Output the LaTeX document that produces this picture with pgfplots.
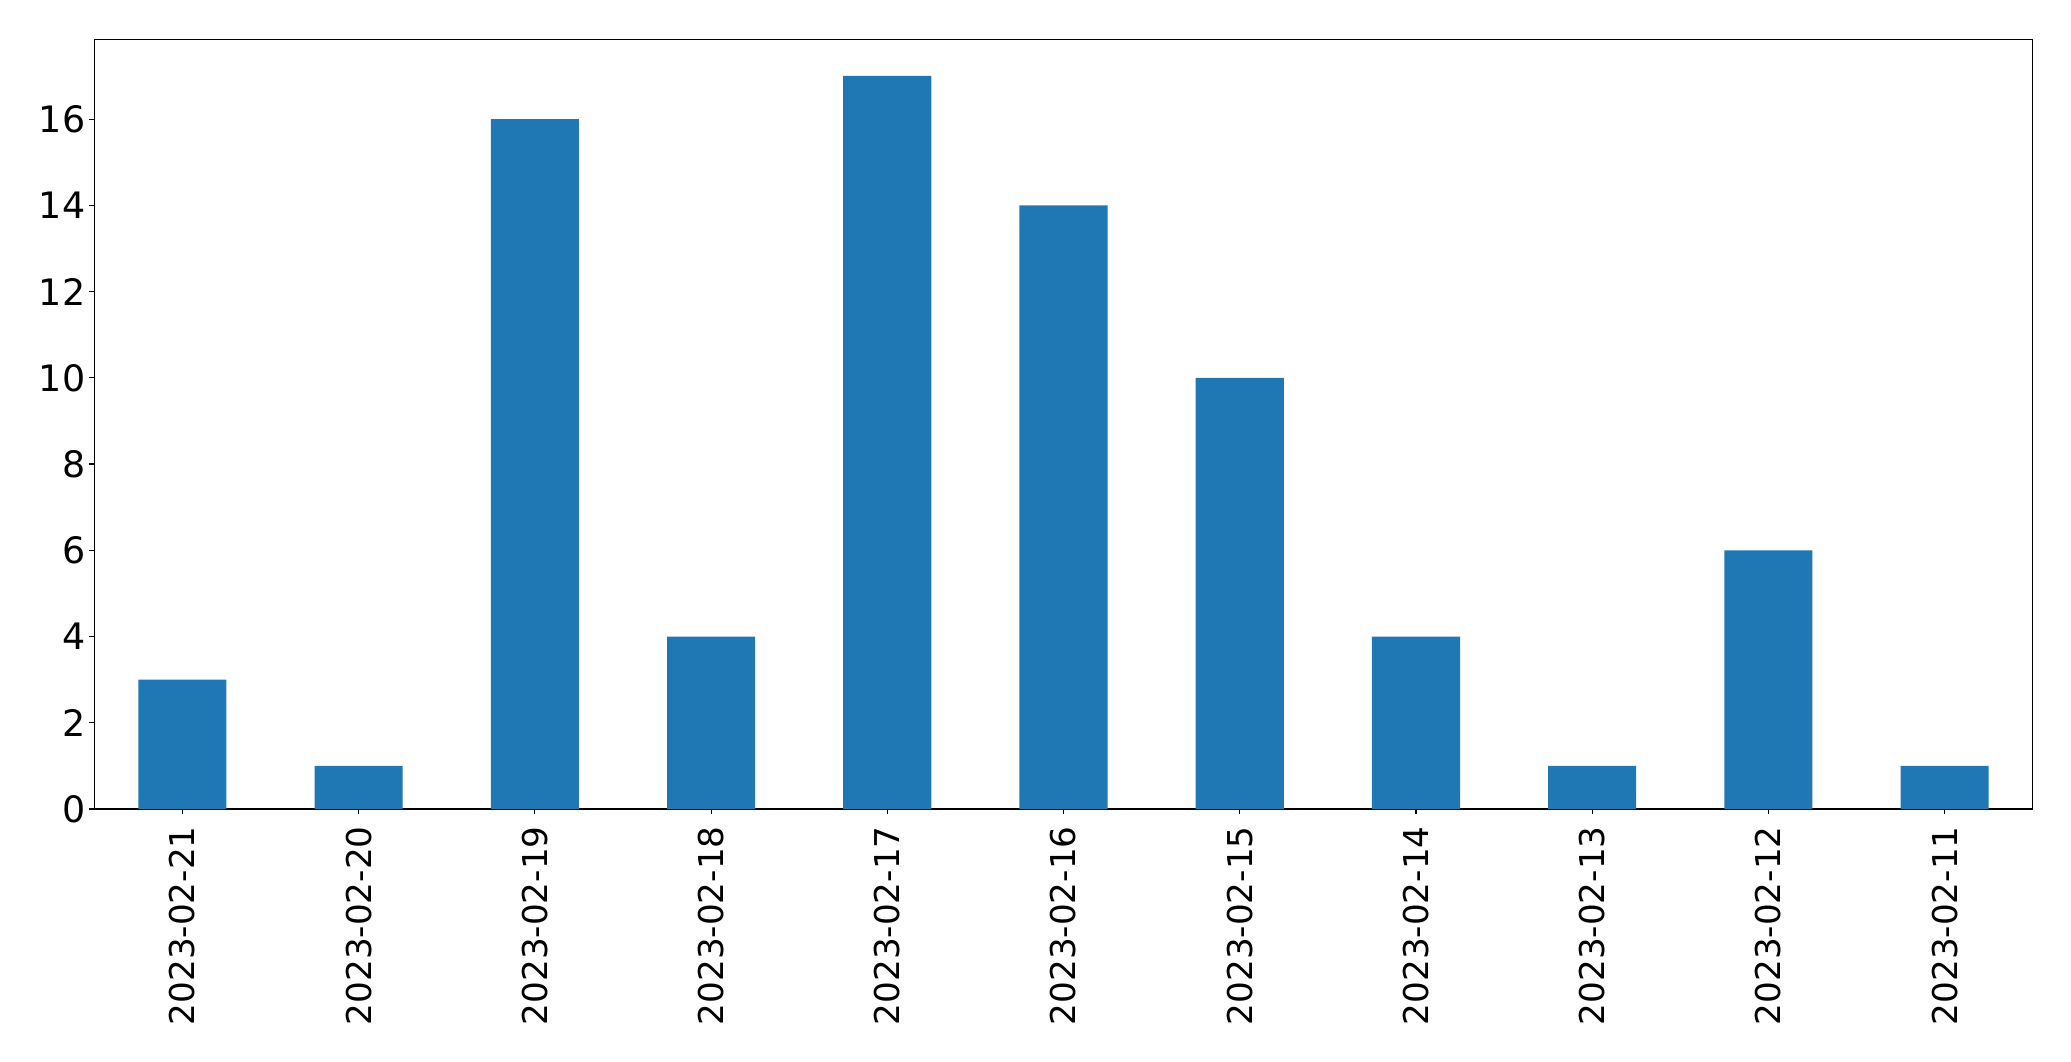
\documentclass[border=0pt]{standalone}
\usepackage{pgfplots}
\pgfplotsset{compat=1.18}
\usepackage{fontspec}
\setmainfont{DejaVu Sans}
\definecolor{barblue}{HTML}{1F77B4}
\begin{document}
\fontsize{18pt}{22pt}\selectfont
\begin{tikzpicture}
\path[use as bounding box] (-47.15pt,-126pt) rectangle (988.35pt,404.5pt);
\begin{axis}[
  at={(0pt,0pt)}, anchor=south west,
  scale only axis,
  width=969.2pt, height=384.85pt,
  xmin=-0.5, xmax=10.5,
  ymin=0, ymax=17.85,
  ytick={0,2,4,6,8,10,12,14,16},
  xtick={0,1,2,3,4,5,6,7,8,9,10},
  xticklabels={2023-02-21,2023-02-20,2023-02-19,2023-02-18,2023-02-17,2023-02-16,2023-02-15,2023-02-14,2023-02-13,2023-02-12,2023-02-11},
  tick align=outside,
  major tick length=2.5pt,
  tick style={black, line width=0.56pt},
  axis line style={black, line width=0.56pt},
  xtick pos=bottom, ytick pos=left,
  /pgf/number format/assume math mode=true,
  yticklabel style={font=\fontsize{18.2pt}{22pt}\selectfont, anchor=east, inner sep=0pt, xshift=-1.8pt},
  xticklabel style={font=\fontsize{17.1pt}{21pt}\selectfont, yshift=-6pt, rotate=90, anchor=east, inner sep=0pt},
  ybar, bar width=0.5,
]
\addplot[fill=barblue, draw=none] coordinates {
(0,3) (1,1) (2,16) (3,4) (4,17) (5,14) (6,10) (7,4) (8,1) (9,6) (10,1)
};
\end{axis}
\end{tikzpicture}
\end{document}
